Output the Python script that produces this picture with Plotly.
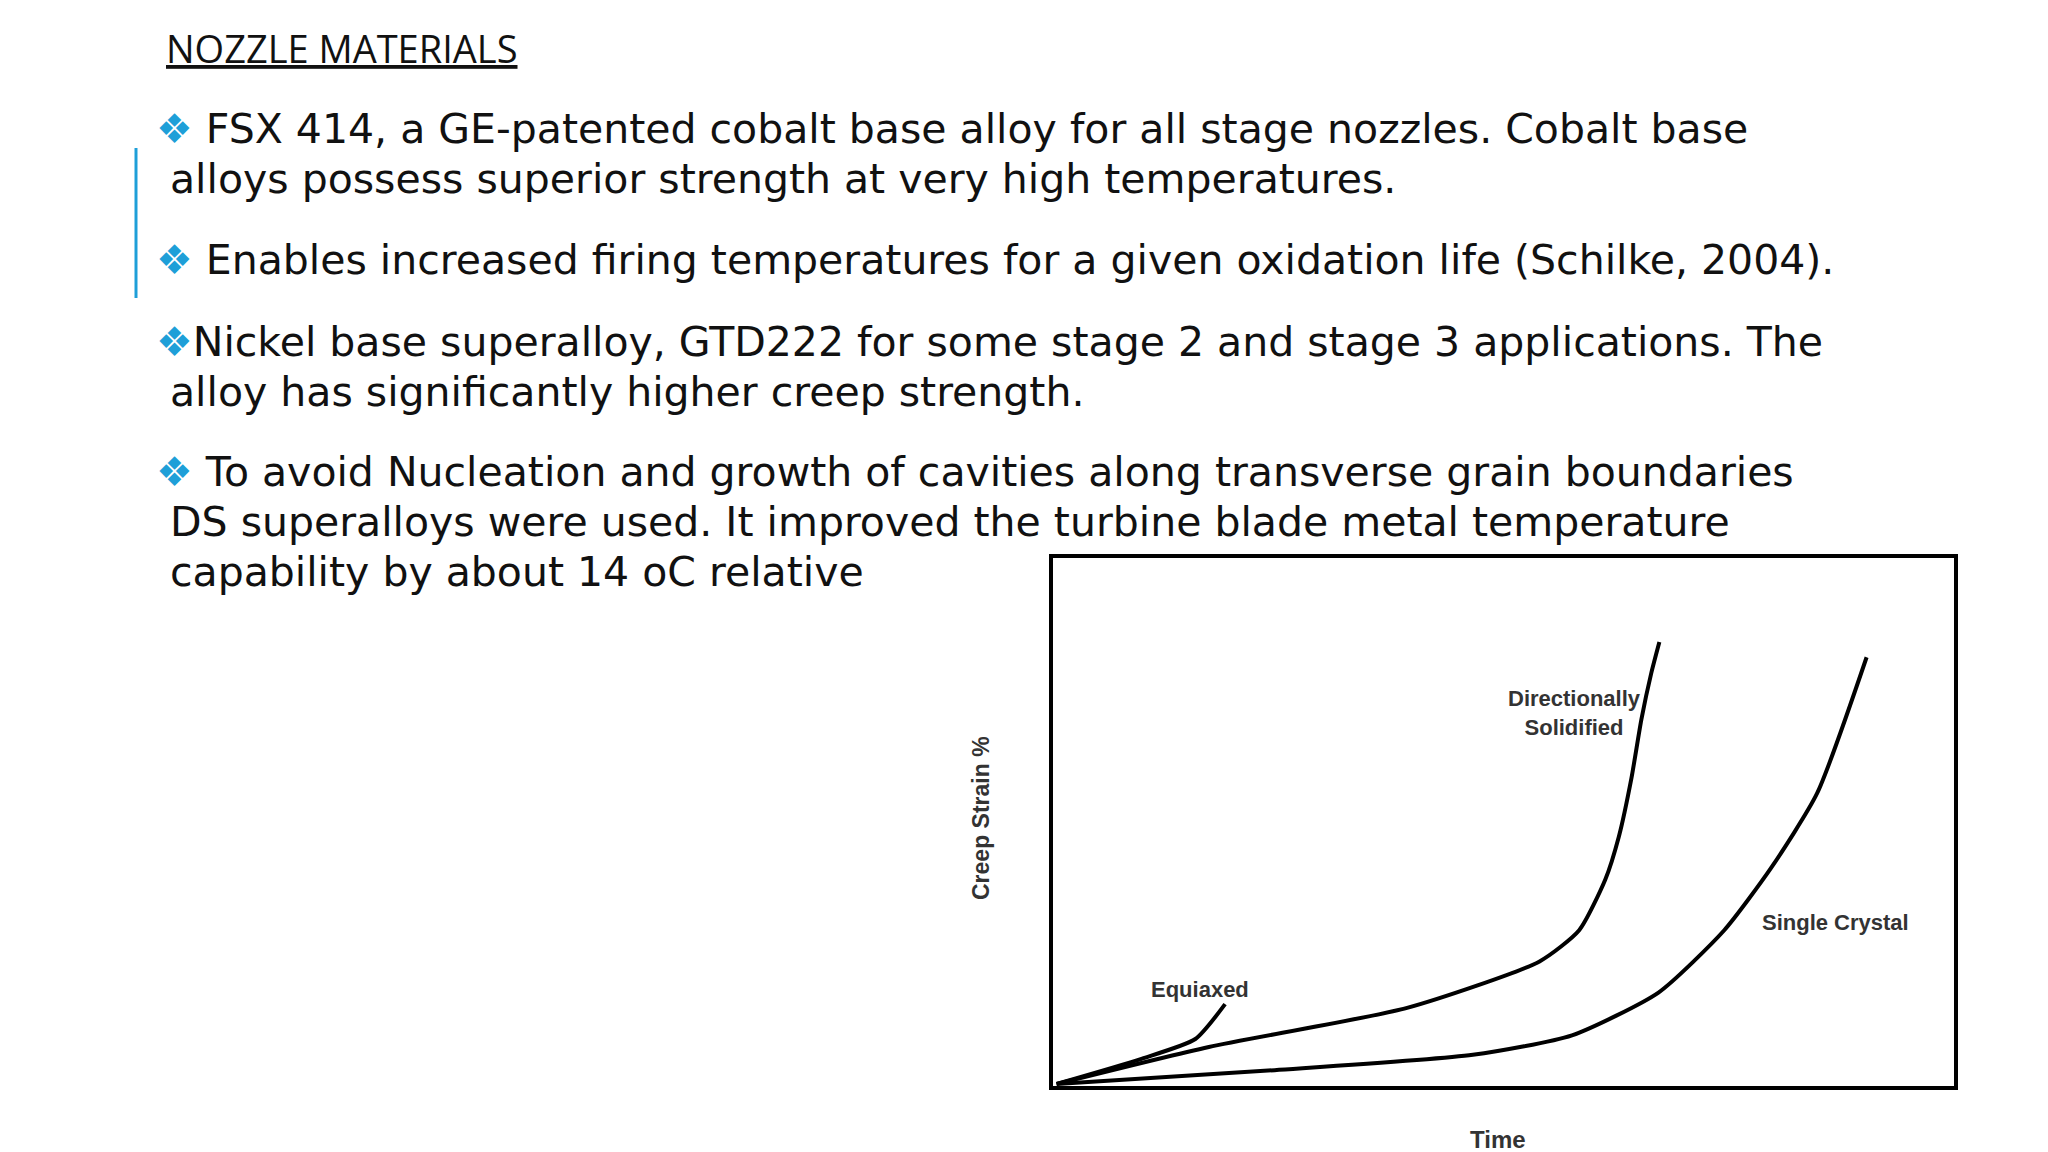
import plotly.graph_objects as go

# creep curves (time % of axis, strain % of axis)
equiaxed_t = [0.4, 9.9, 15.8, 19.1]
equiaxed_s = [0.4, 5.2, 8.9, 15.5]
ds_t = [0.4, 17.3, 39.3, 54.0, 58.4, 61.3, 62.8, 64.2, 65.3, 66.4, 67.3]
ds_s = [0.4, 7.4, 14.8, 23.6, 29.5, 39.1, 47.2, 58.3, 69.4, 78.2, 84.1]
sc_t = [0.4, 24.6, 46.6, 57.6, 67.2, 74.5, 79.7, 84.8, 90.3]
sc_s = [0.4, 3.0, 5.9, 9.6, 17.7, 29.5, 41.3, 55.4, 81.2]

W, H = 2048, 1152
BLUE = "#1e9fd8"
FONT = "DejaVu Sans"

fig = go.Figure()
for t, s in [(equiaxed_t, equiaxed_s), (ds_t, ds_s), (sc_t, sc_s)]:
    fig.add_trace(go.Scatter(x=t, y=s, mode="lines", line=dict(color="black", width=4, shape="spline", smoothing=0.6),
                             showlegend=False, hoverinfo="skip"))

def px(x):
    return x / W

def py(y):
    return 1 - y / H

fig.update_layout(
    width=W, height=H, margin=dict(l=0, r=0, t=0, b=0),
    paper_bgcolor="white", plot_bgcolor="white",
    xaxis=dict(domain=[px(1045), px(1946)], range=[0, 100], showticklabels=False, showgrid=False,
               zeroline=False, showline=True, mirror=True, linecolor="black", linewidth=4, ticks=""),
    yaxis=dict(domain=[py(1078), py(550)], range=[0, 100], showticklabels=False, showgrid=False,
               zeroline=False, showline=True, mirror=True, linecolor="black", linewidth=4, ticks=""),
)

anns = []
def txt(x, y, s, size=41, color="#111", anchor="left", angle=0, family=FONT):
    anns.append(dict(x=px(x), y=py(y), xref="paper", yref="paper", text=s, showarrow=False,
                     xanchor=anchor, yanchor="middle", textangle=angle,
                     font=dict(size=size, color=color, family=family)))

txt(156, 40, "<u>NOZZLE MATERIALS</u>", size=38, family="Open Sans")
bul = f"<span style='color:{BLUE}'>❖</span>"
txt(146, 121, bul + " FSX 414, a GE-patented cobalt base alloy for all stage nozzles. Cobalt base")
txt(160, 171, "alloys possess superior strength at very high temperatures.")
txt(146, 252, bul + " Enables increased firing temperatures for a given oxidation life (Schilke, 2004).")
txt(146, 334, bul + "Nickel base superalloy, GTD222 for some stage 2 and stage 3 applications. The")
txt(160, 384, "alloy has significantly higher creep strength.")
txt(146, 464, bul + " To avoid Nucleation and growth of cavities along transverse grain boundaries")
txt(160, 514, "DS superalloys were used. It improved the turbine blade metal temperature")
txt(160, 564, "capability by about 14 oC relative")

lab = "Liberation Sans"
txt(1566, 705, "<b>Directionally<br>Solidified</b>", size=22, color="#333", anchor="center", family=lab)
txt(1827, 914, "<b>Single Crystal</b>", size=22, color="#333", anchor="center", family=lab)
txt(1192, 981, "<b>Equiaxed</b>", size=22, color="#333", anchor="center", family=lab)
txt(1490, 1131, "<b>Time</b>", size=24, color="#333", anchor="center", family=lab)
txt(973, 810, "<b>Creep Strain %</b>", size=23, color="#333", anchor="center", angle=-90, family=lab)
fig.update_layout(annotations=anns)

fig.add_shape(type="line", xref="paper", yref="paper", x0=px(128), x1=px(128), y0=py(140), y1=py(290),
              line=dict(color=BLUE, width=3))

fig.write_html("out.html")
